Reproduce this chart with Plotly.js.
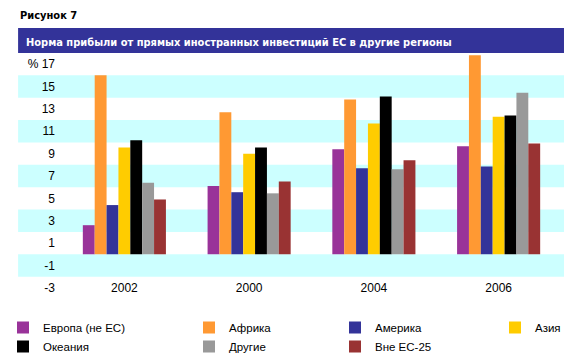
<!DOCTYPE html>
<html>
<head>
<meta charset="utf-8">
<script src="https://cdn.plot.ly/plotly-3.0.1.min.js"></script>
<style>html,body{margin:0;padding:0;background:#fff;}#chart{width:569px;height:357px;}</style>
</head>
<body>
<div id="chart"></div>
<script>
const categories = ["2002", "2000", "2004", "2006"];
const seriesNames = ["Европа (не ЕС)", "Африка", "Америка", "Азия", "Океания", "Другие", "Вне ЕС-25"];
const seriesColors = ["#993399", "#FF9933", "#333399", "#FFCC00", "#000000", "#999999", "#993333"];
const europe   = [2.6, 6.1, 9.4, 9.65];
const africa   = [16.0, 12.7, 13.85, 17.8];
const america  = [4.4, 5.55, 7.7, 7.85];
const asia     = [9.55, 9.0, 11.7, 12.3];
const oceania  = [10.2, 9.55, 14.1, 12.4];
const others   = [6.4, 5.45, 7.6, 14.45];
const nonEU25  = [4.9, 6.5, 8.4, 9.9];
const seriesValues = [europe, africa, america, asia, oceania, others, nonEU25];
const yTickVals = [-3, -1, 1, 3, 5, 7, 9, 11, 13, 15, 17];
const yTickText = ["-3", "-1", "1", "3", "5", "7", "9", "11", "13", "15", "% 17"];
const bandRanges = [[-2, 0], [2, 4], [6, 8], [10, 12], [14, 16]];
const legendOf = ["legend", "legend2", "legend3", "legend4", "legend", "legend2", "legend3"];

const traces = seriesNames.map((n, i) => ({
  type: "bar", name: n, x: categories, y: seriesValues[i],
  marker: {color: seriesColors[i], line: {width: 0}},
  legend: legendOf[i]
}));

const shapes = bandRanges.map(r => ({
  type: "rect", xref: "paper", yref: "y", x0: -0.088, x1: 1.006, y0: r[0], y1: r[1],
  fillcolor: "#CCFFFF", line: {width: 0}, layer: "below"
}));

const legendBase = {
  orientation: "v", xref: "container", yref: "container", xanchor: "left", yanchor: "top",
  y: 1 - 313/357, bgcolor: "rgba(0,0,0,0)", borderwidth: 0,
  font: {family: "Liberation Sans, Arial, sans-serif", size: 11.5, color: "#000"},
  traceorder: "normal"
};

const layout = {
  width: 569, height: 357,
  margin: {l: 62, r: 8, t: 53, b: 57.5, autoexpand: false},
  paper_bgcolor: "#fff", plot_bgcolor: "rgba(0,0,0,0)",
  barmode: "group", bargap: 0.334, bargroupgap: 0,
  showlegend: true,
  legend:  Object.assign({}, legendBase, {x: 3/569}),
  legend2: Object.assign({}, legendBase, {x: 189/569}),
  legend3: Object.assign({}, legendBase, {x: 335/569}),
  legend4: Object.assign({}, legendBase, {x: 495/569}),
  font: {family: "Liberation Sans, Arial, sans-serif", size: 12, color: "#000"},
  xaxis: {
    type: "category", range: [-0.5, 3.5], showgrid: false, zeroline: false, showline: false,
    ticks: "", anchor: "free", position: 0.083, tickfont: {size: 12}, tickangle: 0, automargin: false
  },
  yaxis: {
    range: [-4, 18], tickvals: yTickVals, ticktext: yTickText, showgrid: false,
    zeroline: false, showline: false, ticks: "", tickfont: {size: 12}, ticklabelstandoff: 6, automargin: false
  },
  shapes: [
    ...shapes,
    {type: "rect", xref: "paper", yref: "paper", x0: -0.088, x1: 1.006, y0: 1, y1: 1 + 25/246.5,
     fillcolor: "#333399", line: {width: 0}}
  ],
  annotations: [
    {text: "<b>Рисунок 7</b>", xref: "paper", yref: "paper", x: -0.088, y: 1 + 38/246.5,
     xanchor: "left", yanchor: "middle", showarrow: false,
     font: {family: "Liberation Sans Narrow, DejaVu Sans Condensed, sans-serif", size: 11, color: "#000"}},
    {text: "<b>Норма прибыли от прямых иностранных инвестиций ЕС в другие регионы</b>", xref: "paper", yref: "paper",
     x: -0.076, y: 1 + 11/246.5, xanchor: "left", yanchor: "middle", showarrow: false,
     font: {family: "Liberation Sans Narrow, DejaVu Sans Condensed, sans-serif", size: 11, color: "#fff"}}
  ]
};

Plotly.newPlot("chart", traces, layout, {displayModeBar: false, staticPlot: true});
</script>
</body>
</html>
